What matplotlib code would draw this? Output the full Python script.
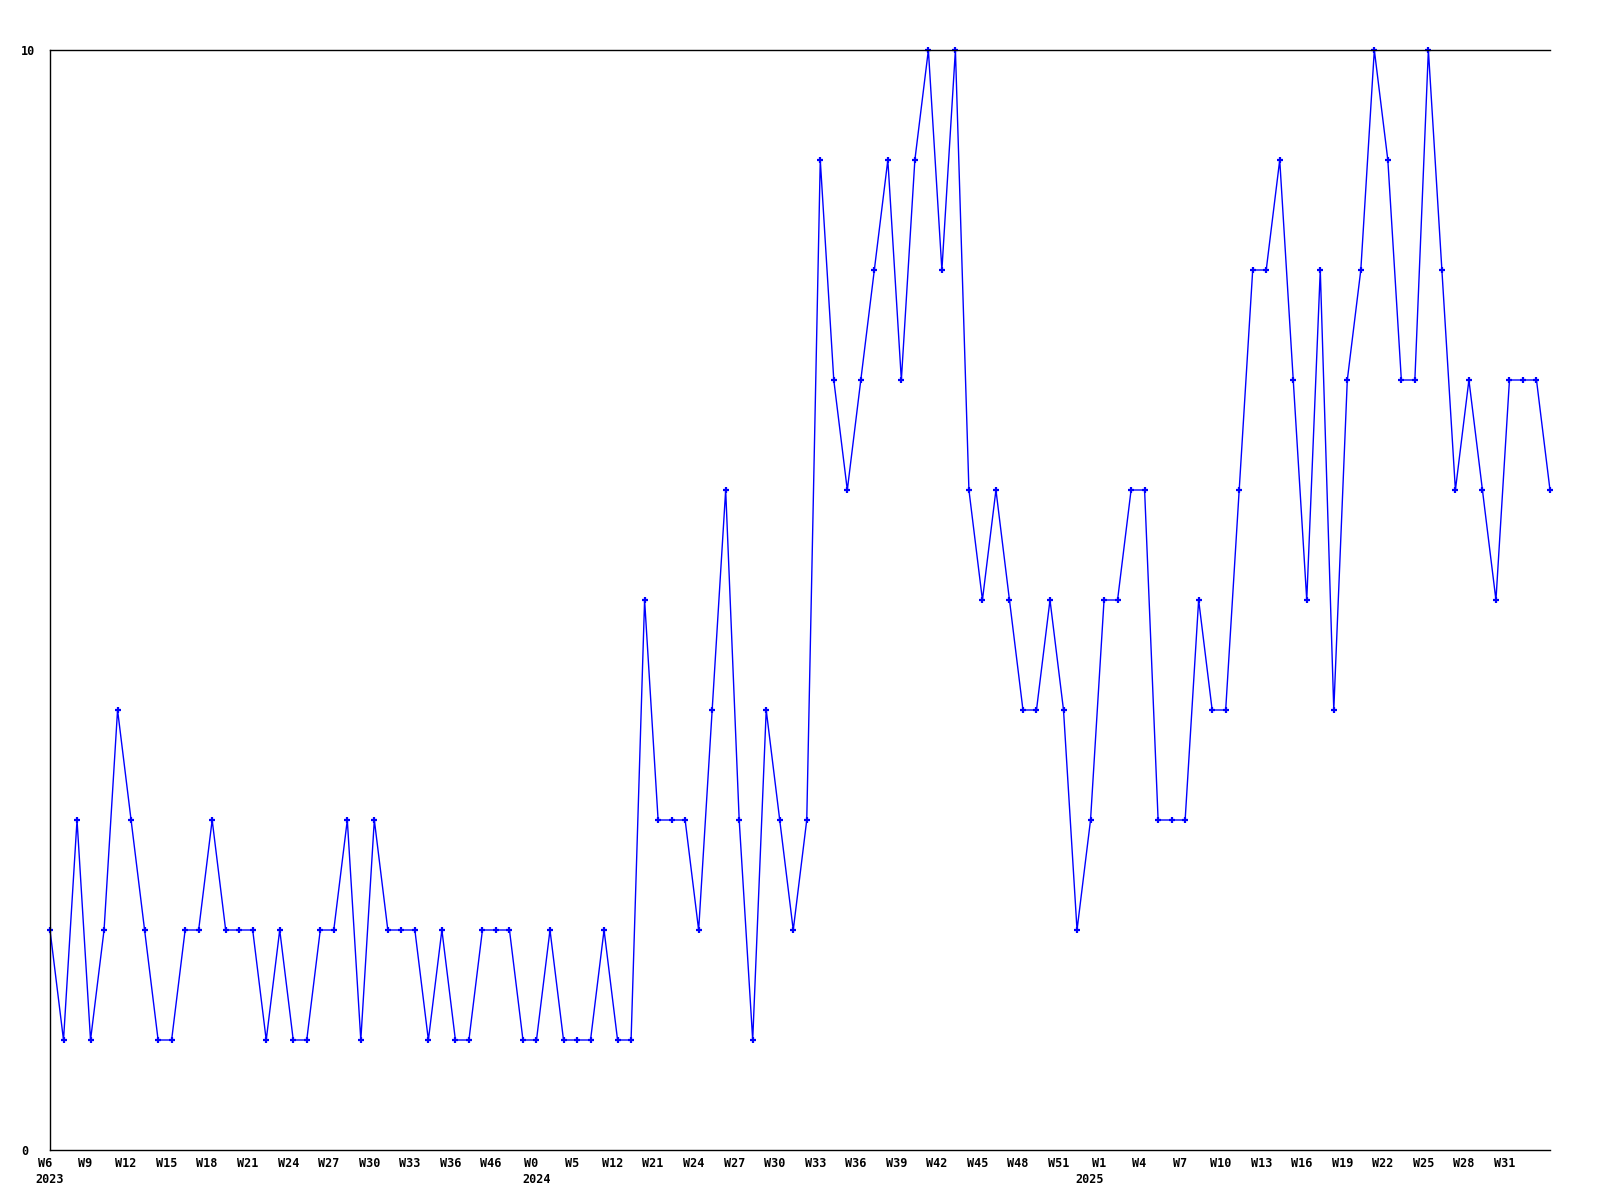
import numpy as np
import matplotlib
matplotlib.use("Agg")
import matplotlib.pyplot as plt
import matplotlib.transforms as mtransforms


#========= Data =========
# weekly counts, one value per reported week (weeks with no report are skipped)
counts_2023 = [2, 1, 3, 1, 2, 4, 3, 2, 1, 1, 2, 2, 3, 2, 2, 2, 1, 2, 1, 1,
               2, 2, 3, 1, 3, 2, 2, 2, 1, 2, 1, 1, 2, 2, 2, 1]
counts_2024 = [1, 2, 1, 1, 1, 2, 1, 1, 5, 3, 3, 3, 2, 4, 6, 3, 1, 4, 3, 2,
               3, 9, 7, 6, 7, 8, 9, 7, 9, 10, 8, 10, 6, 5, 6, 5, 4, 4, 5, 4,
               2, 3]
counts_2025 = [5, 5, 6, 6, 3, 3, 3, 5, 4, 4, 6, 8, 8, 9, 7, 5, 8, 4, 7, 8,
               10, 9, 7, 7, 10, 8, 6, 7, 6, 5, 7, 7, 7, 6]

# every third week gets a label
week_labels = ["W6", "W9", "W12", "W15", "W18", "W21", "W24", "W27", "W30",
               "W33", "W36", "W46", "W0", "W5", "W12", "W21", "W24", "W27",
               "W30", "W33", "W36", "W39", "W42", "W45", "W48", "W51", "W1",
               "W4", "W7", "W10", "W13", "W16", "W19", "W22", "W25", "W28",
               "W31"]
label_step = 3
year_labels = ["2023", "2024", "2025"]
year_label_at = ["W6", "W0", "W1"]   # first label of each year

y_ticks = [0, 10]


#========= Plot =========
def plot_weekly(values, labels, step, years, years_at, out_path="out.png"):
    """
    Line chart of weekly counts with week labels and year markers. \n
    Input:
    - values: list of counts
    - labels: week tick labels (one every `step` points)
    - years / years_at: year text and the week label it goes under
    """
    fig = plt.figure(figsize=(16, 12), dpi=100)
    ax = fig.add_axes([50 / 1600, 50 / 1200, 1500 / 1600, 1100 / 1200])

    x = np.arange(len(values))
    ax.plot(x, values, color="#0000ff", linewidth=1.0,
            marker="+", markersize=5, markeredgewidth=1.6, clip_on=False)

    ax.set_xlim(0, len(values) - 1)
    ax.set_ylim(0, 10)

    font = dict(family="DejaVu Sans Mono", weight="bold", size=8.5)

    tick_pos = np.arange(len(labels)) * step
    ax.set_xticks(tick_pos)
    ax.set_xticklabels(labels, **font)
    ax.set_yticks(y_ticks)
    ax.set_yticklabels([str(v) for v in y_ticks], **font)
    ax.tick_params(length=0)
    ax.tick_params(axis="x", pad=5)

    # shift week labels a bit to the left, like the original
    shift = mtransforms.ScaledTranslation(-5 / 100, 0, fig.dpi_scale_trans)
    for lab in ax.get_xticklabels():
        lab.set_transform(lab.get_transform() + shift)

    # y labels sit left aligned near the edge of the image
    for lab in ax.get_yticklabels():
        lab.set_horizontalalignment("left")
    ax.tick_params(axis="y", pad=30)
    yshift = mtransforms.ScaledTranslation(13 / 100, 0, fig.dpi_scale_trans)
    for lab in ax.get_yticklabels():
        lab.set_transform(lab.get_transform() + yshift)

    # year under the first week label of each year
    trans = mtransforms.blended_transform_factory(ax.transData, ax.transAxes)
    down = mtransforms.ScaledTranslation(0, -23 / 100, fig.dpi_scale_trans)
    for i, (yr, wk) in enumerate(zip(years, years_at)):
        idx = labels.index(wk) * step
        ha = "right" if i == len(years) - 1 else "center"
        ax.text(idx, 0, yr, transform=trans + down, ha=ha, va="top", **font)

    ax.spines["right"].set_visible(False)
    for s in ["left", "top", "bottom"]:
        ax.spines[s].set_linewidth(1.0)
        ax.spines[s].set_color("black")

    fig.savefig(out_path, dpi=100)


#========= Main =========
if __name__ == "__main__":
    counts = counts_2023 + counts_2024 + counts_2025
    plot_weekly(counts, week_labels, label_step, year_labels, year_label_at)
